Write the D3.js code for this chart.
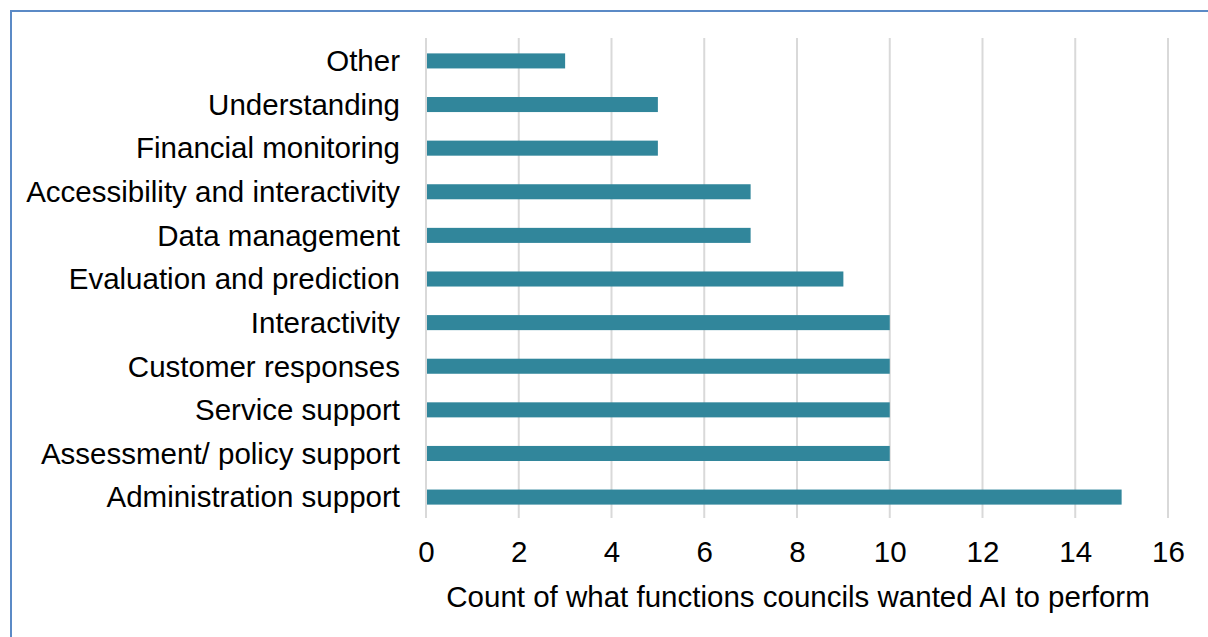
<!DOCTYPE html>
<html>
<head>
<meta charset="utf-8">
<script src="https://cdn.jsdelivr.net/npm/d3@7"></script>
<style>
  body { margin: 0; background: #fff; }
  text { font-family: "Liberation Sans", Arial, sans-serif; fill: #000; }
</style>
</head>
<body>
<script>
// categories top to bottom
var categories = [
    "Other",
    "Understanding",
    "Financial monitoring",
    "Accessibility and interactivity",
    "Data management",
    "Evaluation and prediction",
    "Interactivity",
    "Customer responses",
    "Service support",
    "Assessment/ policy support",
    "Administration support"
];
var counts = [3, 5, 5, 7, 7, 9, 10, 10, 10, 10, 15];
var tickValues = [0, 2, 4, 6, 8, 10, 12, 14, 16];
var axisTitle = "Count of what functions councils wanted AI to perform";

var W = 1208, H = 637;
var svg = d3.select("body").append("svg")
    .attr("width", W)
    .attr("height", H);

// outer frame (only top/left visible in the crop)
svg.append("rect")
    .attr("x", 11).attr("y", 11)
    .attr("width", W + 20).attr("height", H + 20)
    .attr("fill", "none")
    .attr("stroke", "#5b8ac6")
    .attr("stroke-width", 2);

var x = d3.scaleLinear().domain([0, 16]).range([426, 1168]);
var y = d3.scaleBand().domain(categories).range([39, 519]).paddingInner(0.655).paddingOuter(0.33);

// gridlines
svg.append("g").selectAll("line")
    .data(tickValues)
    .enter().append("line")
    .attr("x1", function (d) { return x(d); })
    .attr("x2", function (d) { return x(d); })
    .attr("y1", 38)
    .attr("y2", 518)
    .attr("stroke", "#d9d9d9")
    .attr("stroke-width", 2);

// bars
svg.append("g").selectAll("rect")
    .data(counts)
    .enter().append("rect")
    .attr("x", x(0) + 1)
    .attr("y", function (d, i) { return y(categories[i]); })
    .attr("width", function (d) { return x(d) - x(0) - 1; })
    .attr("height", y.bandwidth())
    .attr("fill", "#31869b");

// category labels
var yAxis = svg.append("g")
    .attr("transform", "translate(400,0)")
    .call(d3.axisLeft(y).tickSize(0).tickPadding(0));
yAxis.select(".domain").remove();
yAxis.selectAll("text")
    .style("font-size", "29.5px")
    .attr("dy", "0.35em");

// x tick labels
var xAxis = svg.append("g")
    .attr("transform", "translate(0,541)")
    .call(d3.axisBottom(x).tickValues(tickValues).tickSize(0).tickPadding(0));
xAxis.select(".domain").remove();
xAxis.selectAll("text")
    .style("font-size", "29.5px")
    .attr("dy", "0.71em");

// axis title
svg.append("text")
    .attr("x", x(8) + 1)
    .attr("y", 607)
    .attr("text-anchor", "middle")
    .style("font-size", "29.5px")
    .text(axisTitle);
</script>
</body>
</html>
